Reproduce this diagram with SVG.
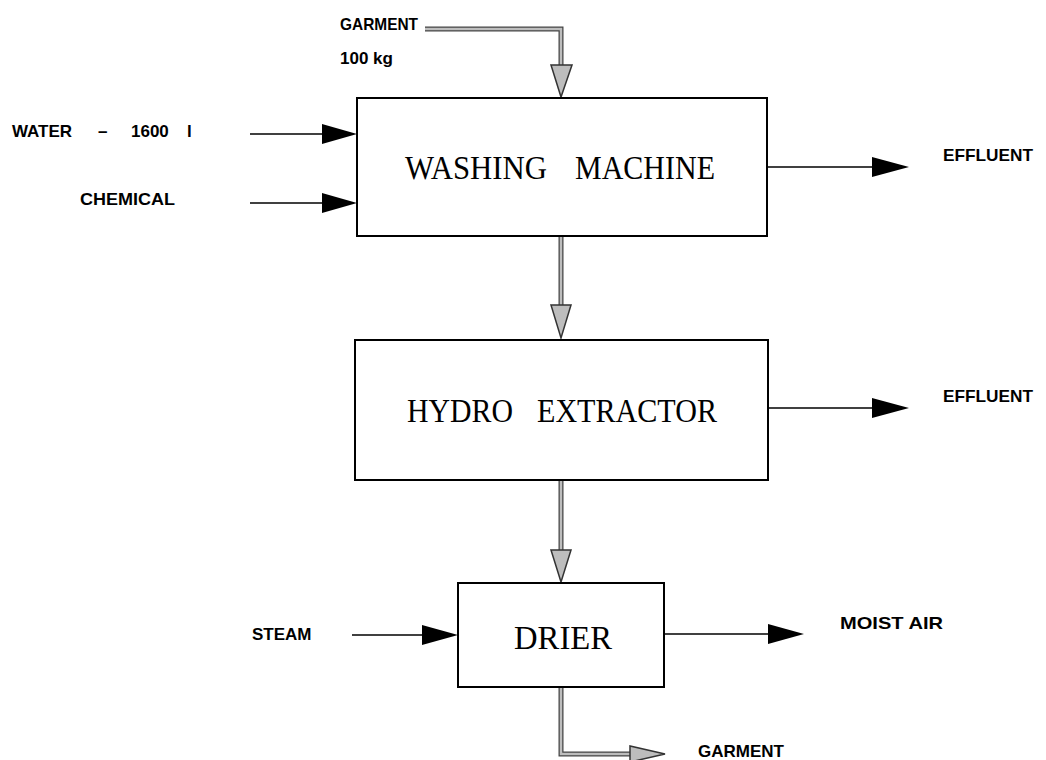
<svg xmlns="http://www.w3.org/2000/svg" width="1046" height="760" viewBox="0 0 1046 760">
<style>
.box{fill:#fff;stroke:#000;stroke-width:2}
.title{font-family:"Liberation Serif","Times New Roman",serif;font-size:34px;fill:#000}
.lbl{font-family:"Liberation Sans",Arial,sans-serif;font-size:17px;font-weight:bold;fill:#000}
.bl{stroke:#000;stroke-width:1.6;fill:none}
.head{fill:#000}
.go{stroke:#444;stroke-width:5;fill:none;stroke-linejoin:miter}
.gi{stroke:#bdbdbd;stroke-width:2.5;fill:none;stroke-linejoin:miter}
.gh{fill:#bdbdbd;stroke:#333;stroke-width:1.5}
</style>
<rect width="1046" height="760" fill="#fff"/>
<g id="connectors">
  <path class="go" d="M425 29 H561 V66"/>
  <path class="gi" d="M425 29 H561 V66"/>
  <polygon class="gh" points="551,65 572,65 561,97"/>
  <path class="go" d="M561 237 V306"/>
  <path class="gi" d="M561 237 V306"/>
  <polygon class="gh" points="551,305 571,305 561,338"/>
  <path class="go" d="M561 481 V551"/>
  <path class="gi" d="M561 481 V551"/>
  <polygon class="gh" points="551,550 571,550 561,582"/>
  <path class="go" d="M561 688 V754 H632"/>
  <path class="gi" d="M561 688 V754 H632"/>
  <polygon class="gh" points="630,746 630,762 665,754"/>
  <line class="bl" x1="250" y1="134" x2="325" y2="134"/>
  <polygon class="head" points="322,124 357,134 322,144"/>
  <line class="bl" x1="250" y1="203" x2="325" y2="203"/>
  <polygon class="head" points="322,193 357,203 322,213"/>
  <line class="bl" x1="767" y1="167" x2="875" y2="167"/>
  <polygon class="head" points="872,157 909,167 872,177"/>
  <line class="bl" x1="768" y1="408" x2="875" y2="408"/>
  <polygon class="head" points="872,398 909,408 872,418"/>
  <line class="bl" x1="352" y1="635" x2="425" y2="635"/>
  <polygon class="head" points="422,625 458,635 422,645"/>
  <line class="bl" x1="664" y1="634" x2="770" y2="634"/>
  <polygon class="head" points="768,624 804,634 768,644"/>
</g>
<g id="washing">
  <rect class="box" x="357" y="98" width="410" height="138"/>
  <text class="title" x="405" y="179" textLength="142" lengthAdjust="spacingAndGlyphs">WASHING</text>
  <text class="title" x="575" y="179" textLength="140" lengthAdjust="spacingAndGlyphs">MACHINE</text>
</g>
<g id="hydro">
  <rect class="box" x="355" y="340" width="413" height="140"/>
  <text class="title" x="407" y="422" textLength="106" lengthAdjust="spacingAndGlyphs">HYDRO</text>
  <text class="title" x="537" y="422" textLength="180" lengthAdjust="spacingAndGlyphs">EXTRACTOR</text>
</g>
<g id="drier">
  <rect class="box" x="458" y="583" width="206" height="104"/>
  <text class="title" x="514" y="649" textLength="98" lengthAdjust="spacingAndGlyphs">DRIER</text>
</g>
<g id="labels">
  <text class="lbl" x="340" y="30" textLength="78" lengthAdjust="spacingAndGlyphs">GARMENT</text>
  <text class="lbl" x="340" y="64">100 kg</text>
  <text class="lbl" x="12" y="137">WATER</text>
  <text class="lbl" x="98" y="137">–</text>
  <text class="lbl" x="131" y="137">1600</text>
  <text class="lbl" x="187" y="137">l</text>
  <text class="lbl" x="80" y="205" textLength="95" lengthAdjust="spacingAndGlyphs">CHEMICAL</text>
  <text class="lbl" x="943" y="161" textLength="90" lengthAdjust="spacingAndGlyphs">EFFLUENT</text>
  <text class="lbl" x="943" y="402" textLength="90" lengthAdjust="spacingAndGlyphs">EFFLUENT</text>
  <text class="lbl" x="252" y="640">STEAM</text>
  <text class="lbl" x="840" y="629" textLength="103" lengthAdjust="spacingAndGlyphs">MOIST  AIR</text>
  <text class="lbl" x="698" y="757">GARMENT</text>
</g>
</svg>
